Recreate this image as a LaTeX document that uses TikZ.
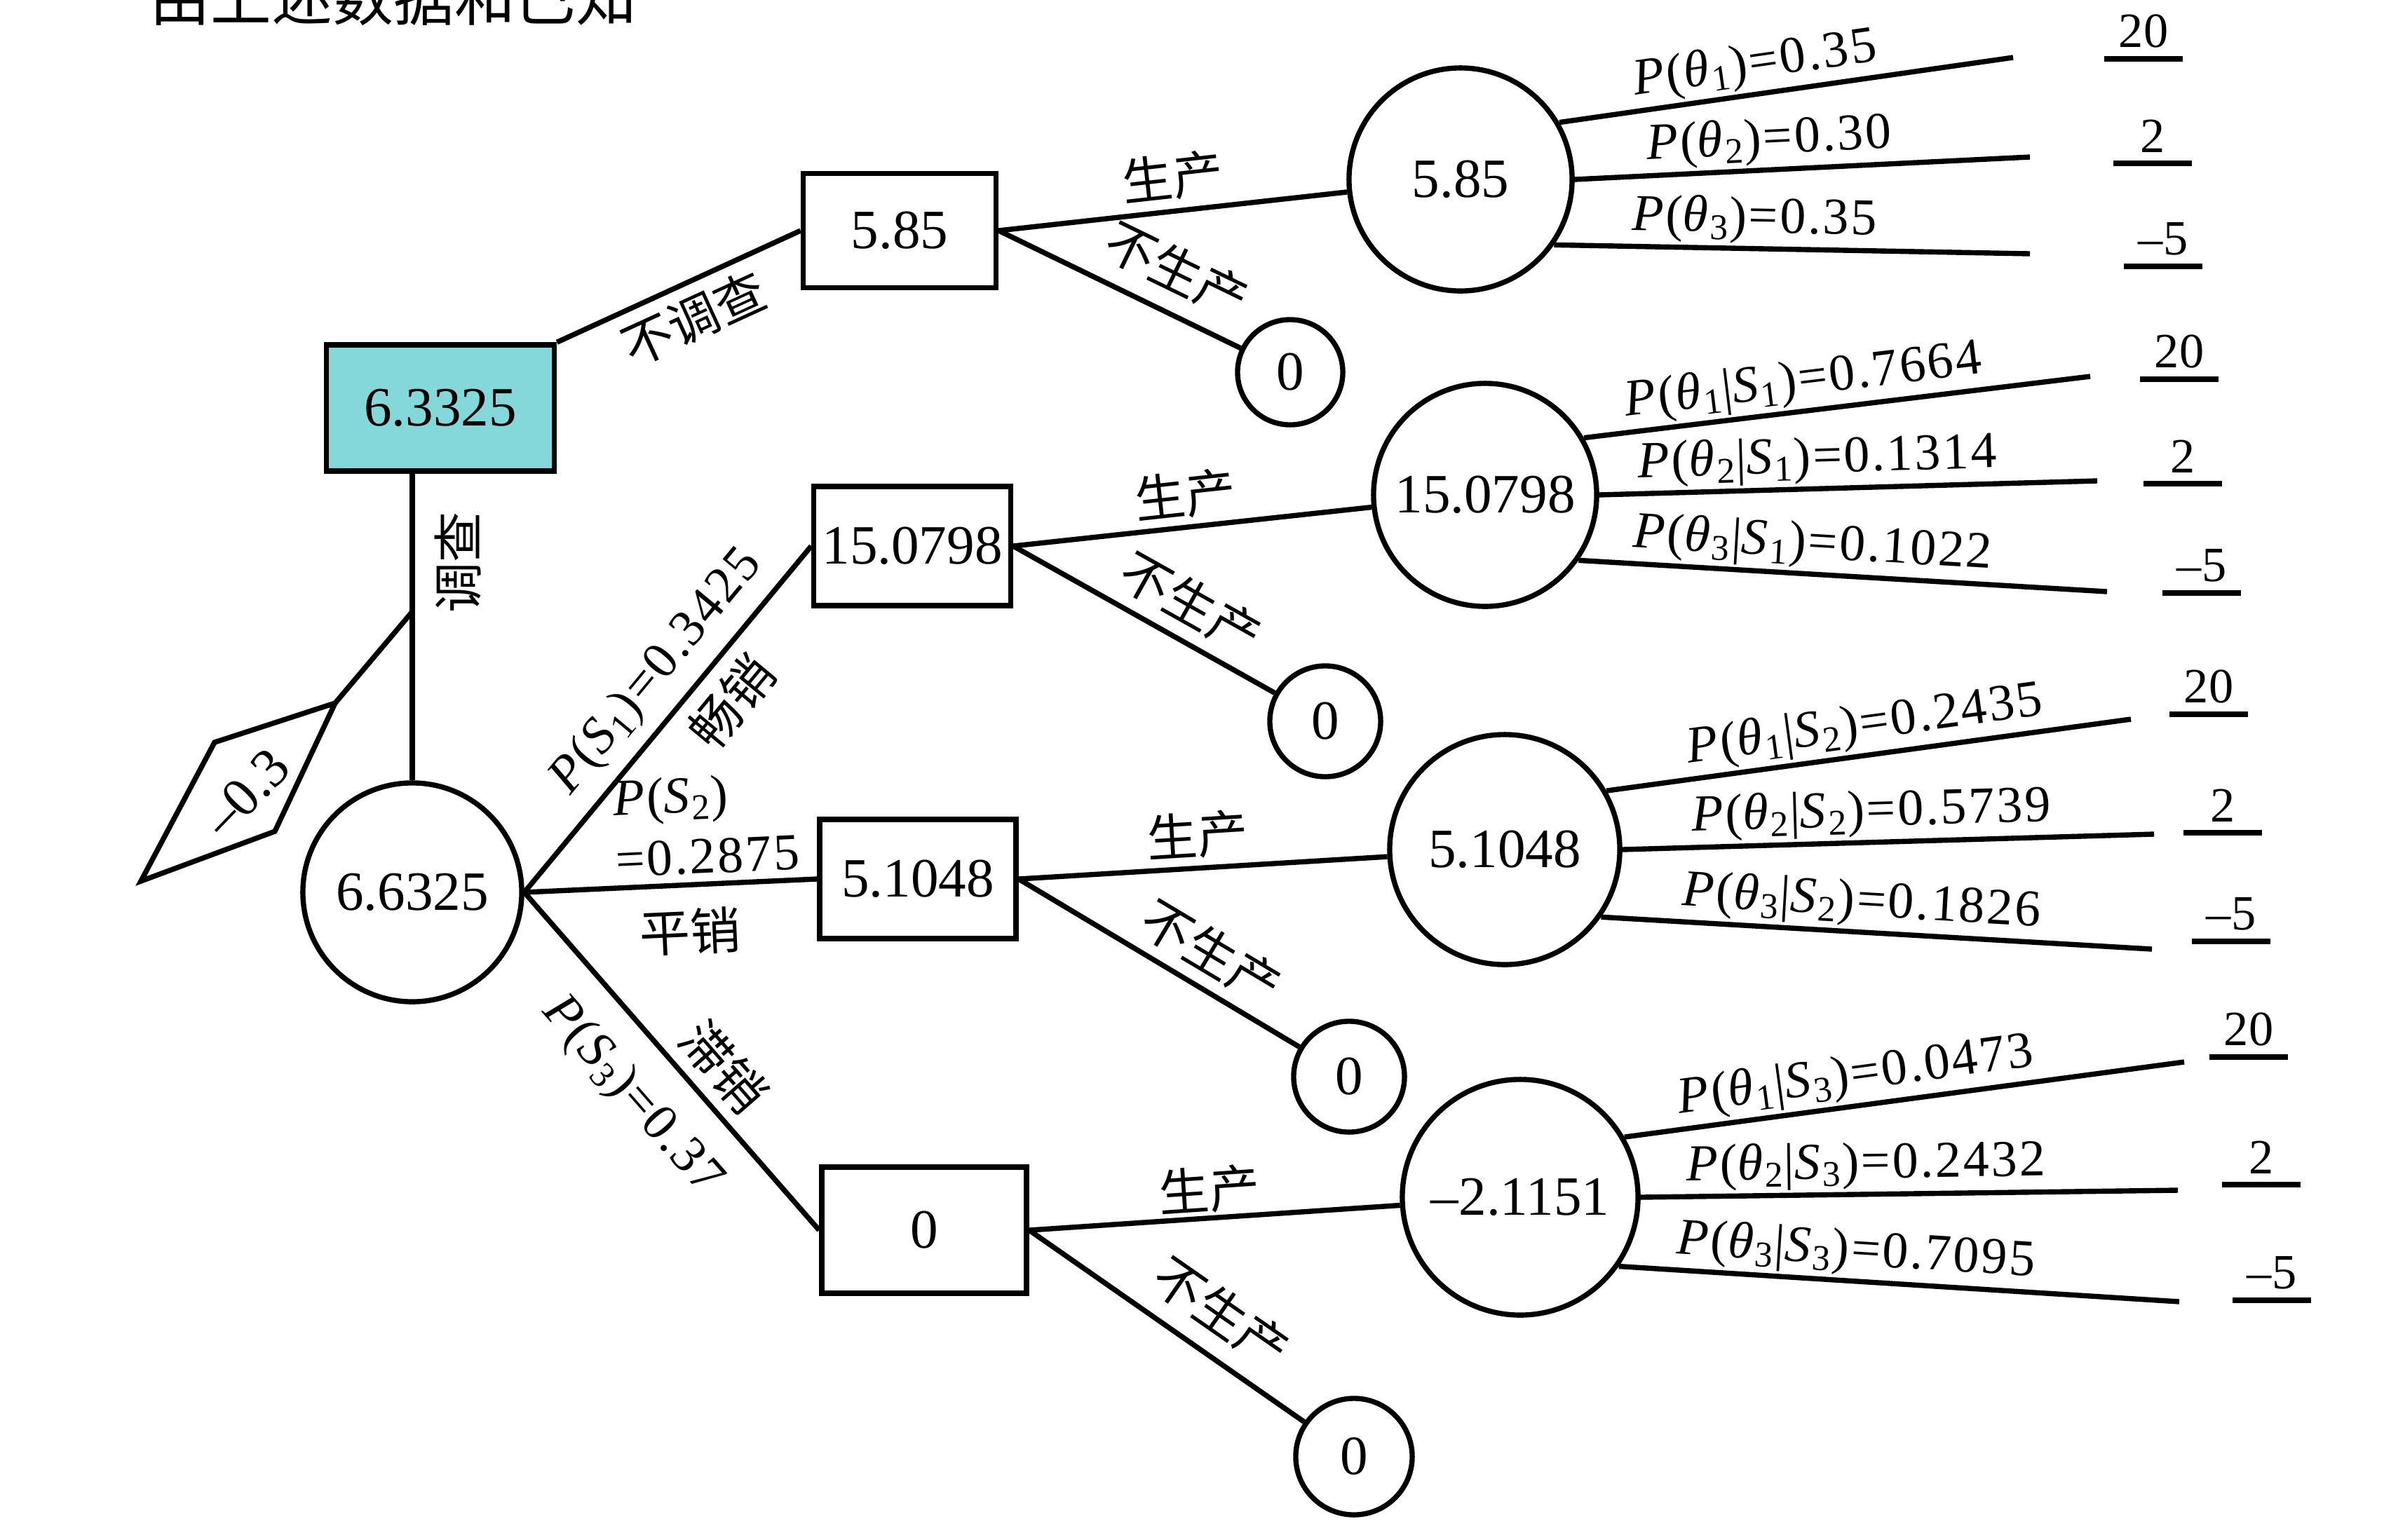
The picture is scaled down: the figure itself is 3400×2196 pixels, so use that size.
\documentclass[tikz,border=0pt]{standalone}
\usepackage{fontspec}
\setmainfont{Liberation Serif}
\newfontfamily\cjk{Noto Sans CJK SC}
\newfontfamily\spaced{Liberation Serif}[LetterSpace=4]
\newcommand{\numfont}{\fontsize{22.5}{27}\selectfont}
\newcommand{\cnfont}{\cjk\fontsize{20.5}{25}\selectfont}
\newcommand{\plabfont}{\spaced\fontsize{21}{25}\selectfont}
\newcommand{\valfont}{\fontsize{20}{24}\selectfont}
\definecolor{rootfill}{RGB}{132,216,218}
\tikzset{
    %Define style for decision boxes
    box/.style={
           rectangle,
           draw=black, line width=2.1pt,
           minimum width=2.8cm,
           minimum height=1.7cm,
           font=\numfont},
    %Define style for chance nodes
    chance/.style={
           circle,
           draw=black, line width=2.1pt,
           minimum size=3.18cm,
           inner sep=0pt,
           font=\numfont},
    %Define style for end nodes
    zero/.style={
           circle,
           draw=black, line width=2.1pt,
           minimum size=1.58cm,
           inner sep=0pt,
           font=\numfont},
    % Define line style
    branch/.style={
           line width=2.1pt},
    % Define label styles
    cnlab/.style={
           font=\cnfont,
           sloped,
           inner sep=3pt},
    plab/.style={
           font=\plabfont,
           sloped,
           inner sep=1pt},
    payoff/.style={
           font=\valfont,
           anchor=south,
           minimum width=1.1cm,
           inner xsep=0pt,
           inner ysep=0.15cm,
           append after command={(\tikzlastnode.south west) edge[branch] (\tikzlastnode.south east)}}
}

\begin{document}
\begin{tikzpicture}[x=0.01cm, y=-0.01cm]
 \clip (0,0) rectangle (3400,2196);
 \node[font=\cjk\fontsize{24.7}{30}\selectfont, anchor=base west, inner sep=0pt] (intro) at (213,29) {由上述数据和已知};
 %nodes
    \node[box, fill=rootfill, minimum width=3.25cm, minimum height=1.8cm] (root) at (628,582) {6.3325};
    \node[box, minimum width=2.75cm, minimum height=1.63cm] (b0) at (1283,329) {5.85};
    \node[chance] (c0) at (2083,256) {5.85};
    \node[zero, minimum size=1.5cm] (z0) at (1840,531) {0};
    \node[chance, minimum size=3.12cm] (rc) at (588,1273) {6.6325};
    \node[box] (b1) at (1301,779) {15.0798};
    \node[box] (b2) at (1309,1254) {5.1048};
    \node[box, minimum width=2.92cm, minimum height=1.8cm] (b3) at (1318,1755) {0};
    \node[chance] (c1) at (2118,706) {15.0798};
    \node[chance, minimum size=3.28cm] (c2) at (2146,1212) {5.1048};
    \node[chance, minimum size=3.36cm] (c3) at (2168,1708) {--2.1151};
    \node[zero] (z1) at (1890,1029) {0};
    \node[zero] (z2) at (1924,1536) {0};
    \node[zero, minimum size=1.66cm] (z3) at (1931,2078) {0};
 %survey cost
    \coordinate (dtip) at (478,1003);
    \draw[branch] (201,1257) -- (306,1059) -- (dtip) -- (392,1186) -- cycle;
    \node[rotate=46, font=\numfont] (cost) at (351,1131) {--0.3};
 %end points
    \coordinate (e01) at (2871,82);
    \coordinate (e02) at (2895,224);
    \coordinate (e03) at (2895,362);
    \coordinate (e11) at (2981,537);
    \coordinate (e12) at (2991,686);
    \coordinate (e13) at (3005,844);
    \coordinate (e21) at (3039,1026);
    \coordinate (e22) at (3072,1190);
    \coordinate (e23) at (3069,1354);
    \coordinate (e31) at (3115,1515);
    \coordinate (e32) at (3106,1698);
    \coordinate (e33) at (3108,1857);
 %payoffs
    \node[payoff] (v01) at (3057,84) {20};
    \node[payoff] (v02) at (3070,233) {2};
    \node[payoff] (v03) at (3085,380) {--5};
    \node[payoff] (v11) at (3108,541) {20};
    \node[payoff] (v12) at (3113,690) {2};
    \node[payoff] (v13) at (3140,846) {--5};
    \node[payoff] (v21) at (3150,1019) {20};
    \node[payoff] (v22) at (3170,1188) {2};
    \node[payoff] (v23) at (3182,1343) {--5};
    \node[payoff] (v31) at (3207,1508) {20};
    \node[payoff] (v32) at (3225,1690) {2};
    \node[payoff] (v33) at (3240,1855) {--5};
 %edges
    \draw[branch] (root.north east) to node[cnlab, below, pos=0.5, inner sep=4pt] {不调查} (b0.west);
    \draw[branch] (rc.north) to coordinate[pos=0.55] (tap) node[cnlab, below, pos=0.71, inner sep=8pt] {调查} (rc.north |- root.south);
    \draw[branch] (dtip) to (tap);
    \draw[branch] (rc.east) to node[plab, above, pos=0.565, inner sep=5pt] {\textit{P}(\textit{S}\textsubscript{1})=0.3425} node[cnlab, below, pos=0.62, inner sep=5pt] {畅销} (b1.west);
    \draw[branch] (rc.east) to node[plab, above, pos=0.63, inner sep=3pt, align=left] {\textit{P}(\textit{S}\textsubscript{2})\\=0.2875} node[cnlab, below, pos=0.56, inner sep=8.5pt] {平销} (b2.west);
    \draw[branch] (rc.east) to node[plab, below, pos=0.5, inner sep=11pt] {\textit{P}(\textit{S}\textsubscript{3})=0.37} node[cnlab, above, pos=0.585, inner sep=4pt] {滞销} (b3.west);
    \draw[branch] (b0.east) to node[cnlab, above, pos=0.51, inner sep=3.4pt] {生产} (c0);
    \draw[branch] (b0.east) to node[cnlab, above, pos=0.66, inner sep=6.5pt] {不生产} (z0);
    \draw[branch] (b1.east) to node[cnlab, above, pos=0.49, inner sep=2.5pt] {生产} (c1);
    \draw[branch] (b1.east) to node[cnlab, above, pos=0.61, inner sep=4.4pt] {不生产} (z1);
    \draw[branch] (b2.east) to node[cnlab, above, pos=0.49, inner sep=2.7pt] {生产} (c2);
    \draw[branch] (b2.east) to node[cnlab, above, pos=0.62, inner sep=4pt] {不生产} (z2);
    \draw[branch] (b3.east) to node[cnlab, above, pos=0.49, inner sep=1pt] {生产} (c3);
    \draw[branch] (b3.east) to node[cnlab, above, pos=0.61, inner sep=6.5pt] {不生产} (z3);
 %state branches
    \draw[branch] (c0.30) to node[plab, above, pos=0.44] {\textit{P}(\textit{θ}\textsubscript{1})=0.35} (e01);
    \draw[branch] (c0.0) to node[plab, above, pos=0.43] {\textit{P}(\textit{θ}\textsubscript{2})=0.30} (e02);
    \draw[branch] (c0.-35) to node[plab, above, pos=0.42] {\textit{P}(\textit{θ}\textsubscript{3})=0.35} (e03);
    \draw[branch] (c1.30) to node[plab, above, pos=0.44] {\textit{P}(\textit{θ}\textsubscript{1}|\textit{S}\textsubscript{1})=0.7664} (e11);
    \draw[branch] (c1.0) to node[plab, above, pos=0.44] {\textit{P}(\textit{θ}\textsubscript{2}|\textit{S}\textsubscript{1})=0.1314} (e12);
    \draw[branch] (c1.-35) to node[plab, above, pos=0.44] {\textit{P}(\textit{θ}\textsubscript{3}|\textit{S}\textsubscript{1})=0.1022} (e13);
    \draw[branch] (c2.30) to node[plab, above, pos=0.50] {\textit{P}(\textit{θ}\textsubscript{1}|\textit{S}\textsubscript{2})=0.2435} (e21);
    \draw[branch] (c2.0) to node[plab, above, pos=0.47] {\textit{P}(\textit{θ}\textsubscript{2}|\textit{S}\textsubscript{2})=0.5739} (e22);
    \draw[branch] (c2.-35) to node[plab, above, pos=0.47] {\textit{P}(\textit{θ}\textsubscript{3}|\textit{S}\textsubscript{2})=0.1826} (e23);
    \draw[branch] (c3.30) to node[plab, above, pos=0.42] {\textit{P}(\textit{θ}\textsubscript{1}|\textit{S}\textsubscript{3})=0.0473} (e31);
    \draw[branch] (c3.0) to node[plab, above, pos=0.42] {\textit{P}(\textit{θ}\textsubscript{2}|\textit{S}\textsubscript{3})=0.2432} (e32);
    \draw[branch] (c3.-35) to node[plab, above, pos=0.42] {\textit{P}(\textit{θ}\textsubscript{3}|\textit{S}\textsubscript{3})=0.7095} (e33);
\end{tikzpicture}
\end{document}
